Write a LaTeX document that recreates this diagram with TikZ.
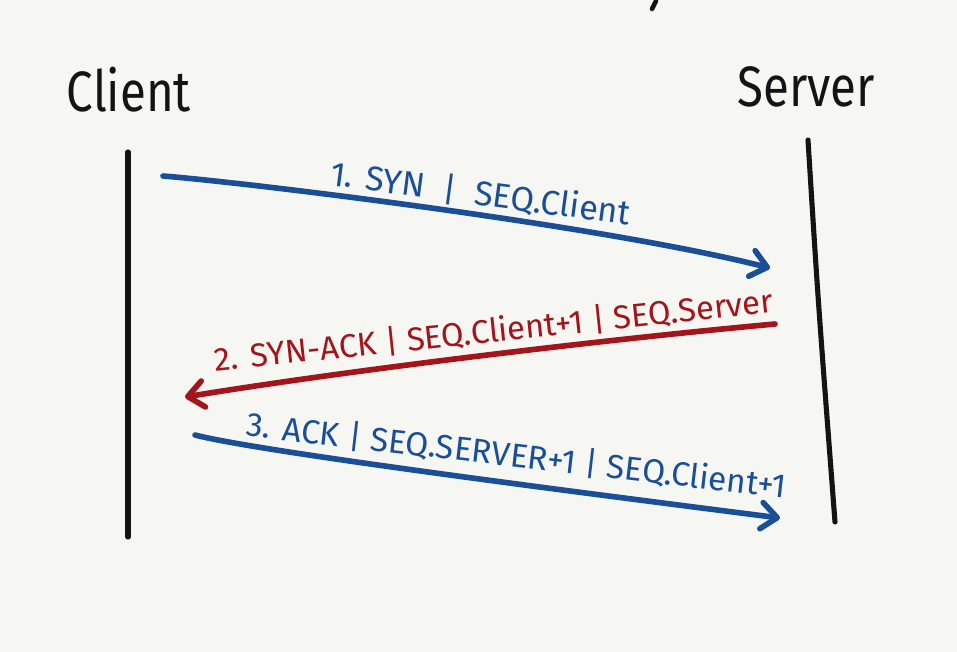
\documentclass[tikz,border=0pt]{standalone}
\usepackage{fontspec}
\setmainfont{Fira Sans}
\usetikzlibrary{arrows.meta}
\definecolor{bg}{HTML}{F6F7F2}
\definecolor{inkblue}{HTML}{1A4F98}
\definecolor{inkred}{HTML}{A3151A}
\definecolor{ink}{HTML}{141414}
\tikzset{
  lifeline/.style={draw=ink, line width=2.9pt, line cap=round},
  msg/.style={line width=3.2pt, line cap=round, line join=round,
    -{Straight Barb[length=9pt,width=15pt,line width=3.2pt,round]}},
  party/.style={font=\fontsize{27}{30}\selectfont, text=ink, inner sep=0pt, yscale=1.2},
  msglabel/.style={inner sep=0pt, anchor=base}
}
\begin{document}
\begin{tikzpicture}[x=0.02cm,y=-0.02cm]
\useasboundingbox[fill=bg] (0,0) rectangle (957,652);
% small cut-off stroke at top
\draw[draw=ink, line width=2.6pt, line cap=round] (656,1) -- (652,9);
% parties
\node[party] (client) at (129,90) {Client};
\node[party] (server) at (806,87) {Server};
% lifelines
\coordinate (ctop) at (128,152);
\coordinate (cbot) at (128,537);
\coordinate (stop) at (808,140);
\coordinate (sbot) at (835,522);
\draw[lifeline] (ctop) -- (cbot);
\draw[lifeline] (stop) .. controls (818,300) .. (sbot);
% message 1
\coordinate (m1s) at (163,176);
\coordinate (m1e) at (770,268);
\draw[msg, draw=inkblue] (m1s) .. controls (240,182) and (600,225) .. (m1e);
\node[msglabel, text=inkblue, rotate=-7.6, font=\fontsize{19.5}{22}\selectfont] (l1) at (479,205) {1. SYN\ \ |\ \ SEQ.Client};
% message 2
\coordinate (m2s) at (775,324);
\coordinate (m2e) at (185,397);
\draw[msg, draw=inkred] (m2s) .. controls (600,340) and (350,370) .. (m2e);
\node[msglabel, text=inkred, rotate=6.0, font=\fontsize{18.7}{22}\selectfont] (l2) at (495,342) {2. SYN-ACK | SEQ.Client+1 | SEQ.Server};
% message 3
\coordinate (m3s) at (195,435);
\coordinate (m3e) at (780,518);
\draw[msg, draw=inkblue] (m3s) .. controls (260,452) and (600,495) .. (m3e);
\node[msglabel, text=inkblue, rotate=-6.6, font=\fontsize{19}{22}\selectfont] (l3) at (515,467) {3. ACK | SEQ.SERVER+1 | SEQ.Client+1};
\end{tikzpicture}
\end{document}
